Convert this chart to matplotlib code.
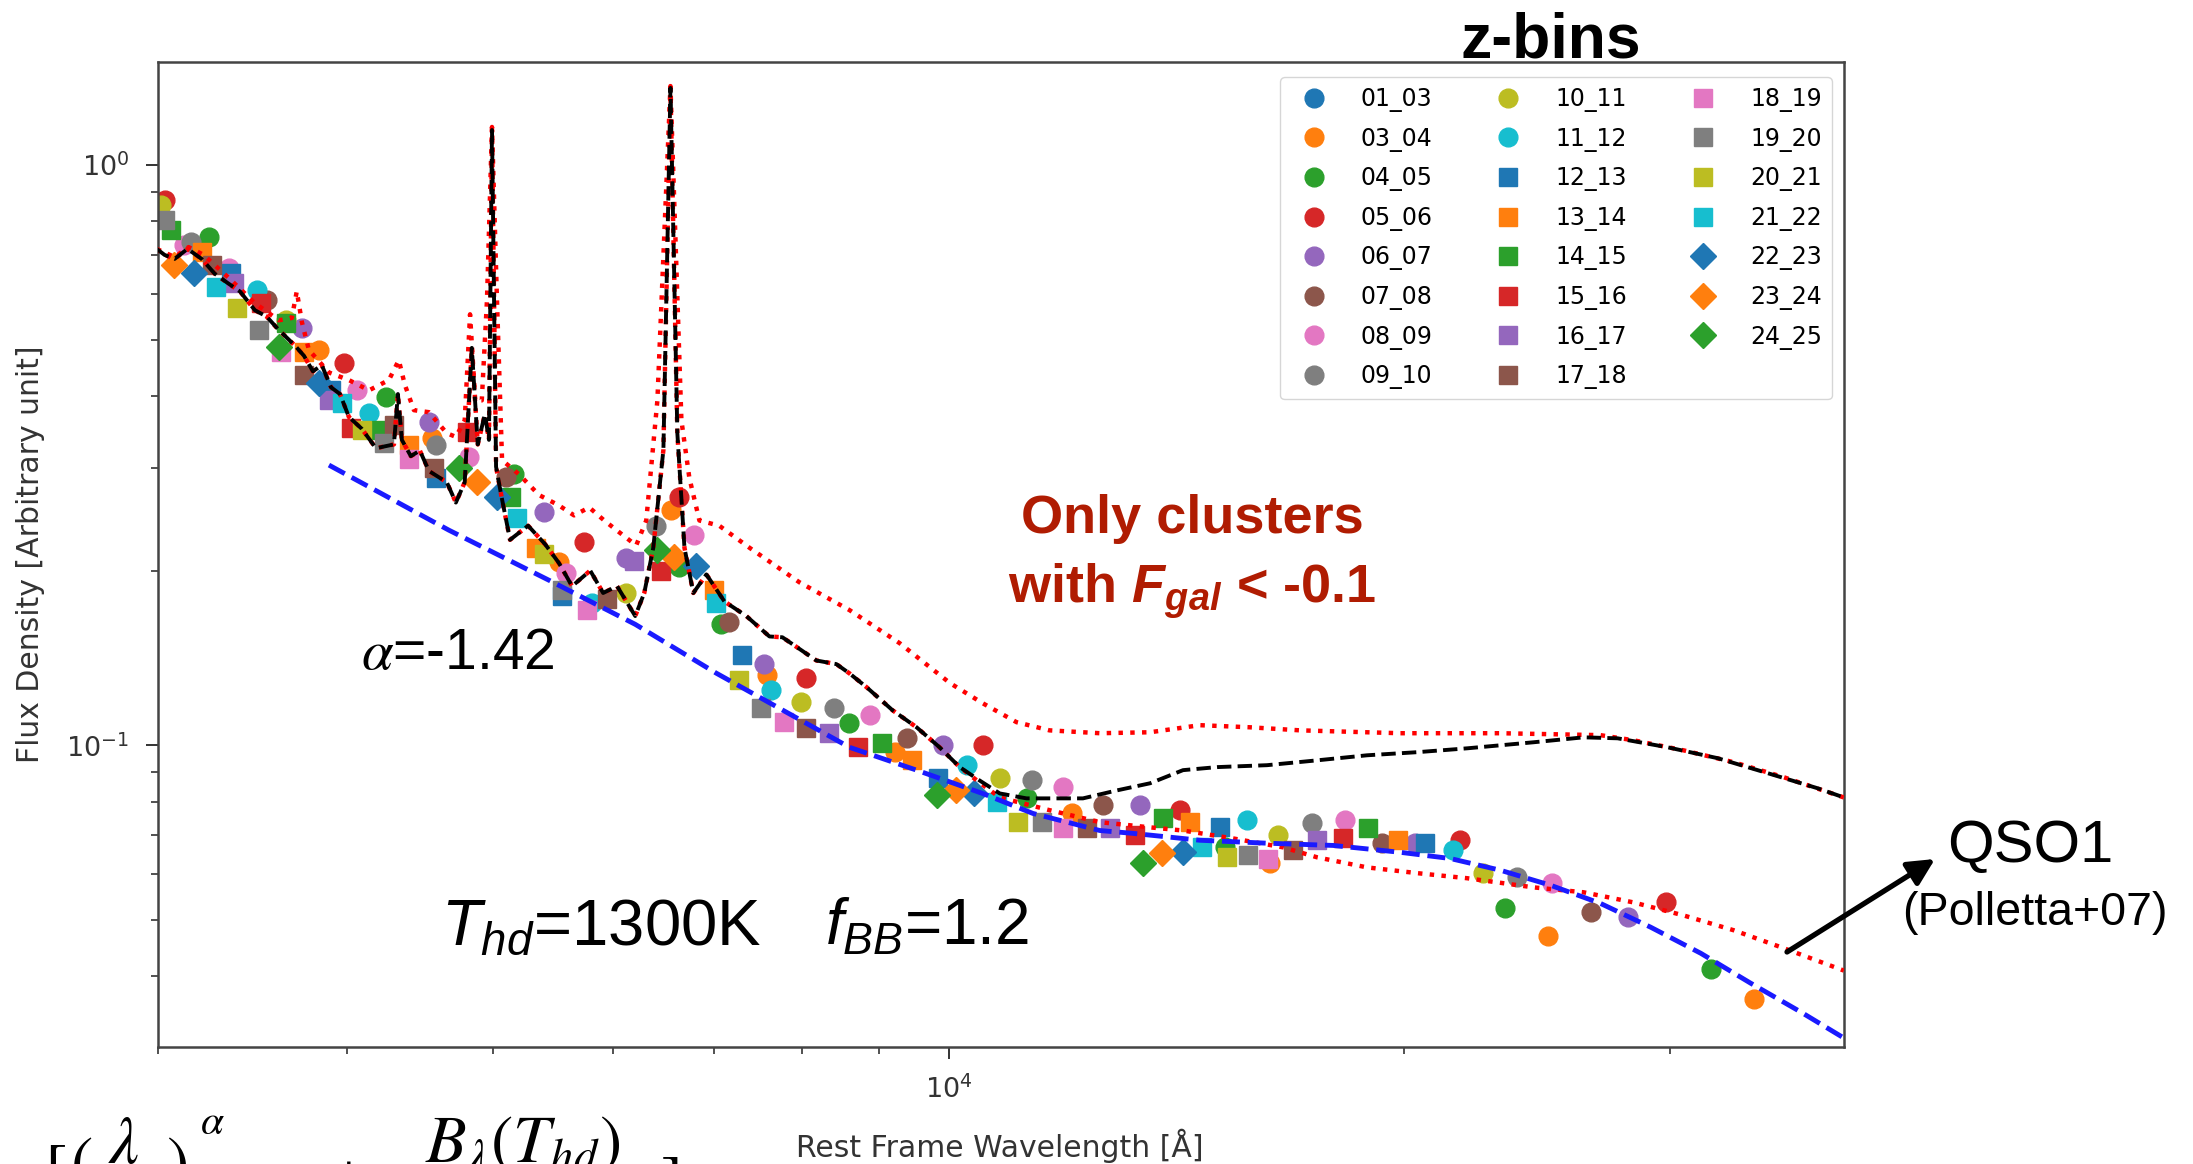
import matplotlib
matplotlib.use("Agg")
import matplotlib.pyplot as plt
from matplotlib.ticker import NullFormatter

plt.rcParams['mathtext.rm'] = 'Liberation Sans'
plt.rcParams['mathtext.it'] = 'Liberation Sans:italic'
plt.rcParams['mathtext.bf'] = 'Liberation Sans:bold'
HAS_BFIT = 'mathtext.bfit' in plt.rcParams
if HAS_BFIT:
    plt.rcParams['mathtext.bfit'] = 'Liberation Sans:italic:bold'

# ---------------- data (rest wavelength [A], flux density) ----------------
lam_0103 = []
flux_0103 = []
lam_0304 = [3833, 4553, 5525, 6557, 7588, 9210, 12060, 16320, 24930, 34080]
flux_0304 = [0.480, 0.338, 0.207, 0.254, 0.132, 0.0973, 0.0763, 0.0626, 0.0470, 0.0366]
lam_0405 = [3240, 4245, 5160, 6637, 7074, 8599, 11260, 15230, 23350, 31920]
flux_0405 = [0.751, 0.398, 0.294, 0.203, 0.162, 0.1091, 0.0810, 0.0667, 0.0524, 0.0412]
lam_0506 = [3034, 3981, 5740, 6637, 8053, 10530, 14220, 21800, 29810]
flux_0506 = [0.870, 0.456, 0.224, 0.268, 0.1305, 0.100, 0.0773, 0.0686, 0.0536]
lam_0607 = [3735, 4532, 5401, 6123, 7553, 9909, 13380, 20350, 28120]
flux_0607 = [0.524, 0.360, 0.252, 0.210, 0.138, 0.100, 0.0788, 0.0678, 0.0505]
lam_0708 = [3540, 5097, 7161, 9380, 12650, 19350, 26580]
flux_0708 = [0.585, 0.290, 0.163, 0.1028, 0.0788, 0.0678, 0.0515]
lam_0809 = [3119, 3341, 4061, 4817, 5585, 6790, 8866, 11900, 18290, 25080]
flux_0809 = [0.728, 0.664, 0.409, 0.314, 0.198, 0.230, 0.1126, 0.0846, 0.0743, 0.0580]
lam_0910 = [3157, 4580, 6408, 8404, 11350, 17400, 23780]
flux_0910 = [0.737, 0.329, 0.239, 0.1158, 0.0870, 0.0734, 0.0592]
lam_1011 = [3016, 3645, 6123, 7990, 10810, 16520, 22580]
flux_1011 = [0.853, 0.540, 0.183, 0.1186, 0.0877, 0.0700, 0.0602]
lam_1112 = [3487, 4137, 5811, 7635, 10290, 15750, 21570]
flux_1112 = [0.609, 0.374, 0.176, 0.1244, 0.0924, 0.0743, 0.0659]
lam_1213 = [3351, 3904, 4580, 5551, 7305, 9833, 15120, 20660]
flux_1213 = [0.651, 0.409, 0.289, 0.181, 0.143, 0.0877, 0.0722, 0.0678]
lam_1314 = [3206, 3747, 4395, 5335, 6998, 9451, 14440, 19830]
flux_1314 = [0.708, 0.476, 0.329, 0.219, 0.185, 0.0942, 0.0737, 0.0686]
lam_1415 = [3058, 3645, 4213, 5136, 9029, 13860, 18940]
flux_1415 = [0.773, 0.534, 0.349, 0.268, 0.1008, 0.0748, 0.0719]
lam_1516 = [3508, 4024, 4802, 6457, 8705, 13280, 18240]
flux_1516 = [0.578, 0.352, 0.347, 0.200, 0.0992, 0.0700, 0.0691]
lam_1617 = [3367, 3892, 6198, 8340, 12780, 17530]
flux_1617 = [0.626, 0.393, 0.208, 0.1049, 0.0719, 0.0686]
lam_1718 = [3255, 3747, 4297, 4566, 5946, 8053, 12340, 16900]
flux_1718 = [0.672, 0.434, 0.356, 0.300, 0.179, 0.1070, 0.0719, 0.0659]
lam_1819 = [3617, 4395, 5767, 7787, 11900, 16270]
flux_1819 = [0.476, 0.312, 0.171, 0.1096, 0.0719, 0.0638]
lam_1920 = [3034, 3497, 4232, 5551, 7520, 11520, 15780]
flux_1920 = [0.804, 0.519, 0.332, 0.185, 0.1158, 0.0737, 0.0646]
lam_2021 = [3382, 4092, 5401, 7272, 11110, 15280]
flux_2021 = [0.567, 0.349, 0.214, 0.1295, 0.0737, 0.0641]
lam_2122 = [3275, 3970, 5184, 7021, 10760, 14710]
flux_2122 = [0.616, 0.389, 0.246, 0.176, 0.0797, 0.0667]
lam_2223 = [3167, 3833, 5027, 6810, 10400, 14290]
flux_2223 = [0.651, 0.421, 0.268, 0.204, 0.0826, 0.0654]
lam_2324 = [3072, 4876, 6586, 10120, 13840]
flux_2324 = [0.672, 0.284, 0.211, 0.0836, 0.0651]
lam_2425 = [3606, 4744, 6418, 9818, 13440]
flux_2425 = [0.486, 0.300, 0.217, 0.0820, 0.0626]

zbin_labels = ['01_03', '03_04', '04_05', '05_06', '06_07', '07_08', '08_09', '09_10',
               '10_11', '11_12', '12_13', '13_14', '14_15', '15_16', '16_17', '17_18',
               '18_19', '19_20', '20_21', '21_22', '22_23', '23_24', '24_25']

# composite spectrum (black dashed)
lam_black = [2994, 3030, 3077, 3138, 3206, 3270, 3336, 3400, 3477, 3540,
             3600, 3694, 3747, 3798, 3850, 3904, 3958, 4012, 4092, 4181,
             4297, 4323, 4349, 4409, 4470, 4532, 4657, 4722, 4786, 4838,
             4882, 4935, 4966, 4989, 5020, 5058, 5128, 5271, 5410, 5525,
             5636, 5794, 5909, 6036, 6205, 6291, 6378, 6477, 6547, 6616,
             6688, 6779, 6915, 7107, 7349, 7612, 7764, 8176, 8429, 8599,
             8826, 9182, 9524, 9863, 10170, 10480, 10810, 11260, 11660, 12270,
             12920, 13590, 14290, 15050, 16240, 17530, 18910, 20420, 22030, 24370,
             26300, 27700, 29890, 32260, 34820, 37570, 39090]
flux_black = [0.717, 0.700, 0.689, 0.717, 0.689, 0.650, 0.626, 0.605, 0.562, 0.548,
              0.522, 0.489, 0.469, 0.441, 0.452, 0.414, 0.403, 0.368, 0.351, 0.325,
              0.330, 0.403, 0.336, 0.315, 0.322, 0.297, 0.284, 0.262, 0.284, 0.484,
              0.330, 0.372, 0.336, 1.149, 0.302, 0.271, 0.226, 0.239, 0.222, 0.206,
              0.188, 0.200, 0.183, 0.188, 0.167, 0.183, 0.219, 0.323, 1.358, 0.345,
              0.219, 0.183, 0.197, 0.177, 0.167, 0.154, 0.1535, 0.140, 0.138, 0.133,
              0.1259, 0.1149, 0.1074, 0.0992, 0.0917, 0.0870, 0.0826, 0.0810, 0.0810, 0.0810,
              0.0836, 0.0860, 0.0906, 0.0917, 0.0924, 0.0942, 0.0961, 0.0973, 0.0988, 0.1012,
              0.1032, 0.1028, 0.0992, 0.0950, 0.0895, 0.0843, 0.0813]

# second red dotted template (upper)
lam_red_up = [2994, 3077, 3143, 3216, 3341, 3477, 3606, 3678, 3706, 3735,
              3775, 3892, 4012, 4137, 4264, 4329, 4369, 4430, 4532, 4657,
              4722, 4786, 4825, 4863, 4912, 4951, 4989, 5027, 5066, 5199,
              5359, 5525, 5653, 5785, 5919, 6054, 6214, 6310, 6418, 6547,
              6657, 6738, 6842, 7052, 7384, 7966, 8599, 9280, 10020, 10530,
              11090, 11660, 12590, 13590, 14660, 15820, 17080, 19890, 23170, 26980,
              28380, 30630, 33050, 35670, 39090]
flux_red_up = [0.717, 0.694, 0.722, 0.700, 0.639, 0.578, 0.540, 0.545, 0.606, 0.536,
               0.480, 0.439, 0.426, 0.409, 0.426, 0.461, 0.418, 0.378, 0.375, 0.345,
               0.340, 0.363, 0.553, 0.393, 0.393, 0.585, 1.163, 0.585, 0.310, 0.293,
               0.270, 0.259, 0.249, 0.257, 0.244, 0.233, 0.221, 0.244, 0.393, 1.368,
               0.363, 0.289, 0.244, 0.239, 0.219, 0.191, 0.171, 0.150, 0.128, 0.1182,
               0.1096, 0.1061, 0.1049, 0.1053, 0.1083, 0.1074, 0.1061, 0.1049, 0.1049, 0.1041,
               0.1020, 0.0980, 0.0935, 0.0881, 0.0813]

# QSO1 (Polletta+07) red dotted: follows the composite in the UV/optical, NIR tail:
lam_qso1_tail = [10480, 10810, 11660, 12590, 13590, 14290, 15420, 16640, 17530, 18910,
                 20420, 22030, 24370, 26300, 28380, 30630, 33050, 35670, 39090]
flux_qso1_tail = [0.0863, 0.0813, 0.0773, 0.0737, 0.0722, 0.0713, 0.0691, 0.0667, 0.0641, 0.0616,
                  0.0602, 0.0590, 0.0569, 0.0558, 0.0536, 0.0509, 0.0480, 0.0447, 0.0409]

# power law + hot dust model (blue dashed)
lam_model = [3892, 4672, 5441, 6205, 7021, 8599, 9524, 10530, 11370, 12590,
             13240, 14660, 16240, 17960, 19890, 21470, 23170, 25000, 26980, 29120,
             31440, 33920, 36610, 39090]
flux_model = [0.304, 0.2348, 0.1925, 0.1616, 0.1331, 0.0992, 0.0906, 0.0826, 0.0763, 0.0713,
              0.0705, 0.0686, 0.0678, 0.0672, 0.0654, 0.0638, 0.0609, 0.0574, 0.0534, 0.0486,
              0.0438, 0.0389, 0.0347, 0.0313]

# ---------------- figure ----------------
W, H = 2193, 1164
fig = plt.figure(figsize=(W / 100, H / 100), dpi=100)
ax = fig.add_axes([158 / W, 1 - 1047 / H, (1844 - 158) / W, (1047 - 61.5) / H])
ax.set_xscale('log')
ax.set_yscale('log')

tab = ['#1f77b4', '#ff7f0e', '#2ca02c', '#d62728', '#9467bd',
       '#8c564b', '#e377c2', '#7f7f7f', '#bcbd22', '#17becf']
lams = [lam_0103, lam_0304, lam_0405, lam_0506, lam_0607, lam_0708, lam_0809, lam_0910,
        lam_1011, lam_1112, lam_1213, lam_1314, lam_1415, lam_1516, lam_1617, lam_1718,
        lam_1819, lam_1920, lam_2021, lam_2122, lam_2223, lam_2324, lam_2425]
fluxes = [flux_0103, flux_0304, flux_0405, flux_0506, flux_0607, flux_0708, flux_0809, flux_0910,
          flux_1011, flux_1112, flux_1213, flux_1314, flux_1415, flux_1516, flux_1617, flux_1718,
          flux_1819, flux_1920, flux_2021, flux_2122, flux_2223, flux_2324, flux_2425]

handles = []
for i, (lab, lx, fy) in enumerate(zip(zbin_labels, lams, fluxes)):
    if i < 10:
        mk = 'o'
    elif i < 20:
        mk = 's'
    else:
        mk = 'D'
    h, = ax.plot(lx, fy, linestyle='none', marker=mk, color=tab[i % 10],
                 ms=13.5 if mk != 'D' else 13, label=lab, zorder=2)
    handles.append(h)

lam_qso1 = [l for l in lam_black if l <= 10200] + lam_qso1_tail
flux_qso1 = [f for l, f in zip(lam_black, flux_black) if l <= 10200] + flux_qso1_tail

ax.plot(lam_red_up, flux_red_up, ':', color='red', lw=3.2, zorder=3)
ax.plot(lam_qso1, flux_qso1, ':', color='red', lw=3.2, zorder=3)
ax.plot(lam_black, flux_black, '--', color='black', lw=2.8, zorder=4)
ax.plot(lam_model, flux_model, '--', color='#1a1aff', lw=3.5, zorder=4)

ax.set_xlim(3000, 39100)
ax.set_ylim(0.0302, 1.508)
ax.xaxis.set_minor_formatter(NullFormatter())
ax.yaxis.set_minor_formatter(NullFormatter())
ax.tick_params(which='major', length=8.6, width=1.4, pad=12, labelsize=19.5,
               labelcolor='#333333', color='#333333')
ax.tick_params(which='minor', length=5, width=1.2, color='#333333')
for sp in ax.spines.values():
    sp.set_linewidth(1.8)
    sp.set_color('#444444')

leg = ax.legend(handles=handles, ncol=3, loc='upper right', bbox_to_anchor=(0.9929, 0.9843),
                borderaxespad=0, fontsize=17, handletextpad=1.0, columnspacing=2.2,
                labelspacing=0.62, borderpad=0.42)

# axis labels
fig.text(1000 / W, 1 - 1157 / H, 'Rest Frame Wavelength [Å]', fontsize=21.5,
         ha='center', va='baseline', color='#333333')
fig.text(31 / W, 1 - 554.5 / H, 'Flux Density [Arbitrary unit]', fontsize=21.5,
         ha='center', va='center', rotation=90, color='#333333')

# annotations
fig.text(1551 / W, 1 - 58 / H, 'z-bins', fontsize=45, fontweight='bold',
         family='Liberation Sans', ha='center', va='baseline')
red = '#B01C02'
fig.text(1192 / W, 1 - 533 / H, 'Only clusters', fontsize=39, fontweight='bold',
         family='Liberation Sans', color=red, ha='center', va='baseline')
if HAS_BFIT:
    l2 = r'with $\mathbfit{F}_{\mathbfit{gal}}$ < -0.1'
else:
    l2 = r'with $\mathit{F}_{\mathit{gal}}$ < -0.1'
fig.text(1192 / W, 1 - 603 / H, l2, fontsize=39, fontweight='bold',
         family='Liberation Sans', color=red, ha='center', va='baseline',
         math_fontfamily='custom')
fig.text(361 / W, 1 - 669 / H, r'$\alpha$=-1.42', fontsize=41, family='Liberation Sans',
         ha='left', va='baseline', math_fontfamily='stix')
fig.text(441 / W, 1 - 945 / H, r'$T_{hd}$=1300K', fontsize=47, family='Liberation Sans',
         ha='left', va='baseline', math_fontfamily='custom')
fig.text(825 / W, 1 - 945 / H, r'$f_{BB}$=1.2', fontsize=46, family='Liberation Sans',
         ha='left', va='baseline', math_fontfamily='custom')
fig.text(2030 / W, 1 - 862 / H, 'QSO1', fontsize=43, family='Liberation Sans',
         ha='center', va='baseline')
fig.text(2035 / W, 1 - 925 / H, '(Polletta+07)', fontsize=33.5, family='Liberation Sans',
         ha='center', va='baseline')
ax.annotate('', xy=(1935, H - 859), xytext=(1787, H - 952), xycoords='figure pixels',
            textcoords='figure pixels', annotation_clip=False,
            arrowprops=dict(arrowstyle='-|>', lw=3.8, color='black', mutation_scale=40,
                            shrinkA=0, shrinkB=0))

# model formula, only its top part shows above the bottom edge
def ftxt(x, yb, s, size):
    fig.text(x / W, 1 - yb / H, s, fontsize=size, ha='left', va='baseline',
             math_fontfamily='stix')

ftxt(44, 1189, r'$[$', 48)
ftxt(70, 1183, r'$($', 48)
ftxt(108, 1163, r'$\lambda$', 48)
ftxt(166, 1183, r'$)$', 48)
ftxt(200, 1134, r'$\alpha$', 30)
fig.text(330 / W, 1 - 1200 / H, '+', fontsize=48, family='Liberation Serif',
         ha='left', va='baseline')
ftxt(425, 1162, r'$B_\lambda(T_{hd})$', 48)
ftxt(660, 1201, r'$]$', 48)

fig.savefig('out.png', dpi=100, facecolor='white')
